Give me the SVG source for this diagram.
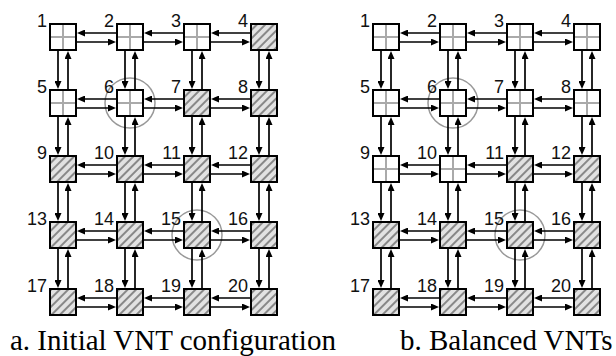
<svg xmlns="http://www.w3.org/2000/svg" width="616" height="356" viewBox="0 0 616 356">
<style>
.box{stroke:#000;stroke-width:2}
.g{fill:#fff}
.h{fill:url(#hatch)}
.x{stroke:#aaa;stroke-width:2;fill:none}
.c{stroke:#000;stroke-width:1.7;fill:none;marker-end:url(#ah)}
.lbl{font-family:"Liberation Sans",Arial,sans-serif;font-size:18px;fill:#111;text-anchor:end}
.cap{font-family:"Liberation Serif","Times New Roman",serif;font-size:29px;fill:#000}
.ring{fill:none;stroke:#999;stroke-width:1.5}
</style>
<defs>
<pattern id="hatch" patternUnits="userSpaceOnUse" width="6" height="6" patternTransform="rotate(45)">
<rect width="6" height="6" fill="#e2e2e2"/>
<line x1="1" y1="0" x2="1" y2="6" stroke="#888" stroke-width="2"/>
</pattern>
<marker id="ah" markerUnits="userSpaceOnUse" markerWidth="8" markerHeight="7" refX="5" refY="3.5" orient="auto">
<path d="M0,0L8,3.5L0,7z" fill="#000"/>
</marker>
</defs>
<rect width="616" height="356" fill="#fff"/>
<g id="rings">
<circle class="ring" cx="130" cy="103" r="25"/>
<circle class="ring" cx="197" cy="235" r="25"/>
<circle class="ring" cx="453" cy="103" r="25"/>
<circle class="ring" cx="520" cy="235" r="25"/>
</g>
<g id="nodes-a">
<g id="a1"><rect class="box g" x="50" y="24" width="26" height="26"/><path class="x" d="M63 25V49M51 37H75"/><text class="lbl" x="47" y="27">1</text></g>
<g id="a2"><rect class="box g" x="117" y="24" width="26" height="26"/><path class="x" d="M130 25V49M118 37H142"/><text class="lbl" x="114" y="27">2</text></g>
<g id="a3"><rect class="box g" x="184" y="24" width="26" height="26"/><path class="x" d="M197 25V49M185 37H209"/><text class="lbl" x="181" y="27">3</text></g>
<g id="a4"><rect class="box h" x="251" y="24" width="26" height="26"/><text class="lbl" x="248" y="27">4</text></g>
<g id="a5"><rect class="box g" x="50" y="90" width="26" height="26"/><path class="x" d="M63 91V115M51 103H75"/><text class="lbl" x="47" y="93">5</text></g>
<g id="a6"><rect class="box g" x="117" y="90" width="26" height="26"/><path class="x" d="M130 91V115M118 103H142"/><text class="lbl" x="114" y="93">6</text></g>
<g id="a7"><rect class="box h" x="184" y="90" width="26" height="26"/><text class="lbl" x="181" y="93">7</text></g>
<g id="a8"><rect class="box h" x="251" y="90" width="26" height="26"/><text class="lbl" x="248" y="93">8</text></g>
<g id="a9"><rect class="box h" x="50" y="156" width="26" height="26"/><text class="lbl" x="47" y="159">9</text></g>
<g id="a10"><rect class="box h" x="117" y="156" width="26" height="26"/><text class="lbl" x="114" y="159">10</text></g>
<g id="a11"><rect class="box h" x="184" y="156" width="26" height="26"/><text class="lbl" x="181" y="159">11</text></g>
<g id="a12"><rect class="box h" x="251" y="156" width="26" height="26"/><text class="lbl" x="248" y="159">12</text></g>
<g id="a13"><rect class="box h" x="50" y="222" width="26" height="26"/><text class="lbl" x="47" y="225">13</text></g>
<g id="a14"><rect class="box h" x="117" y="222" width="26" height="26"/><text class="lbl" x="114" y="225">14</text></g>
<g id="a15"><rect class="box h" x="184" y="222" width="26" height="26"/><text class="lbl" x="181" y="225">15</text></g>
<g id="a16"><rect class="box h" x="251" y="222" width="26" height="26"/><text class="lbl" x="248" y="225">16</text></g>
<g id="a17"><rect class="box h" x="50" y="289" width="26" height="26"/><text class="lbl" x="47" y="292">17</text></g>
<g id="a18"><rect class="box h" x="117" y="289" width="26" height="26"/><text class="lbl" x="114" y="292">18</text></g>
<g id="a19"><rect class="box h" x="184" y="289" width="26" height="26"/><text class="lbl" x="181" y="292">19</text></g>
<g id="a20"><rect class="box h" x="251" y="289" width="26" height="26"/><text class="lbl" x="248" y="292">20</text></g>
</g>
<g id="nodes-b">
<g id="b1"><rect class="box g" x="373" y="24" width="26" height="26"/><path class="x" d="M386 25V49M374 37H398"/><text class="lbl" x="370" y="27">1</text></g>
<g id="b2"><rect class="box g" x="440" y="24" width="26" height="26"/><path class="x" d="M453 25V49M441 37H465"/><text class="lbl" x="437" y="27">2</text></g>
<g id="b3"><rect class="box g" x="507" y="24" width="26" height="26"/><path class="x" d="M520 25V49M508 37H532"/><text class="lbl" x="504" y="27">3</text></g>
<g id="b4"><rect class="box g" x="574" y="24" width="26" height="26"/><path class="x" d="M587 25V49M575 37H599"/><text class="lbl" x="571" y="27">4</text></g>
<g id="b5"><rect class="box g" x="373" y="90" width="26" height="26"/><path class="x" d="M386 91V115M374 103H398"/><text class="lbl" x="370" y="93">5</text></g>
<g id="b6"><rect class="box g" x="440" y="90" width="26" height="26"/><path class="x" d="M453 91V115M441 103H465"/><text class="lbl" x="437" y="93">6</text></g>
<g id="b7"><rect class="box g" x="507" y="90" width="26" height="26"/><path class="x" d="M520 91V115M508 103H532"/><text class="lbl" x="504" y="93">7</text></g>
<g id="b8"><rect class="box g" x="574" y="90" width="26" height="26"/><path class="x" d="M587 91V115M575 103H599"/><text class="lbl" x="571" y="93">8</text></g>
<g id="b9"><rect class="box g" x="373" y="156" width="26" height="26"/><path class="x" d="M386 157V181M374 169H398"/><text class="lbl" x="370" y="159">9</text></g>
<g id="b10"><rect class="box g" x="440" y="156" width="26" height="26"/><path class="x" d="M453 157V181M441 169H465"/><text class="lbl" x="437" y="159">10</text></g>
<g id="b11"><rect class="box h" x="507" y="156" width="26" height="26"/><text class="lbl" x="504" y="159">11</text></g>
<g id="b12"><rect class="box h" x="574" y="156" width="26" height="26"/><text class="lbl" x="571" y="159">12</text></g>
<g id="b13"><rect class="box h" x="373" y="222" width="26" height="26"/><text class="lbl" x="370" y="225">13</text></g>
<g id="b14"><rect class="box h" x="440" y="222" width="26" height="26"/><text class="lbl" x="437" y="225">14</text></g>
<g id="b15"><rect class="box h" x="507" y="222" width="26" height="26"/><text class="lbl" x="504" y="225">15</text></g>
<g id="b16"><rect class="box h" x="574" y="222" width="26" height="26"/><text class="lbl" x="571" y="225">16</text></g>
<g id="b17"><rect class="box h" x="373" y="289" width="26" height="26"/><text class="lbl" x="370" y="292">17</text></g>
<g id="b18"><rect class="box h" x="440" y="289" width="26" height="26"/><text class="lbl" x="437" y="292">18</text></g>
<g id="b19"><rect class="box h" x="507" y="289" width="26" height="26"/><text class="lbl" x="504" y="292">19</text></g>
<g id="b20"><rect class="box h" x="574" y="289" width="26" height="26"/><text class="lbl" x="571" y="292">20</text></g>
</g>
<g id="connectors">
<path class="c" d="M116 33H80"/><path class="c" d="M77 42H113"/><path class="c" d="M183 33H147"/><path class="c" d="M144 42H180"/><path class="c" d="M250 33H214"/><path class="c" d="M211 42H247"/>
<path class="c" d="M116 99H80"/><path class="c" d="M77 108H113"/><path class="c" d="M183 99H147"/><path class="c" d="M144 108H180"/><path class="c" d="M250 99H214"/><path class="c" d="M211 108H247"/>
<path class="c" d="M116 165H80"/><path class="c" d="M77 174H113"/><path class="c" d="M183 165H147"/><path class="c" d="M144 174H180"/><path class="c" d="M250 165H214"/><path class="c" d="M211 174H247"/>
<path class="c" d="M116 231H80"/><path class="c" d="M77 240H113"/><path class="c" d="M183 231H147"/><path class="c" d="M144 240H180"/><path class="c" d="M250 231H214"/><path class="c" d="M211 240H247"/>
<path class="c" d="M116 298H80"/><path class="c" d="M77 307H113"/><path class="c" d="M183 298H147"/><path class="c" d="M144 307H180"/><path class="c" d="M250 298H214"/><path class="c" d="M211 307H247"/>
<path class="c" d="M58 51V86"/><path class="c" d="M68 89V54"/><path class="c" d="M58 117V152"/><path class="c" d="M68 155V120"/><path class="c" d="M58 183V218"/><path class="c" d="M68 221V186"/><path class="c" d="M58 249V285"/><path class="c" d="M68 288V252"/>
<path class="c" d="M125 51V86"/><path class="c" d="M135 89V54"/><path class="c" d="M125 117V152"/><path class="c" d="M135 155V120"/><path class="c" d="M125 183V218"/><path class="c" d="M135 221V186"/><path class="c" d="M125 249V285"/><path class="c" d="M135 288V252"/>
<path class="c" d="M192 51V86"/><path class="c" d="M202 89V54"/><path class="c" d="M192 117V152"/><path class="c" d="M202 155V120"/><path class="c" d="M192 183V218"/><path class="c" d="M202 221V186"/><path class="c" d="M192 249V285"/><path class="c" d="M202 288V252"/>
<path class="c" d="M259 51V86"/><path class="c" d="M269 89V54"/><path class="c" d="M259 117V152"/><path class="c" d="M269 155V120"/><path class="c" d="M259 183V218"/><path class="c" d="M269 221V186"/><path class="c" d="M259 249V285"/><path class="c" d="M269 288V252"/>
<path class="c" d="M439 33H403"/><path class="c" d="M400 42H436"/><path class="c" d="M506 33H470"/><path class="c" d="M467 42H503"/><path class="c" d="M573 33H537"/><path class="c" d="M534 42H570"/>
<path class="c" d="M439 99H403"/><path class="c" d="M400 108H436"/><path class="c" d="M506 99H470"/><path class="c" d="M467 108H503"/><path class="c" d="M573 99H537"/><path class="c" d="M534 108H570"/>
<path class="c" d="M439 165H403"/><path class="c" d="M400 174H436"/><path class="c" d="M506 165H470"/><path class="c" d="M467 174H503"/><path class="c" d="M573 165H537"/><path class="c" d="M534 174H570"/>
<path class="c" d="M439 231H403"/><path class="c" d="M400 240H436"/><path class="c" d="M506 231H470"/><path class="c" d="M467 240H503"/><path class="c" d="M573 231H537"/><path class="c" d="M534 240H570"/>
<path class="c" d="M439 298H403"/><path class="c" d="M400 307H436"/><path class="c" d="M506 298H470"/><path class="c" d="M467 307H503"/><path class="c" d="M573 298H537"/><path class="c" d="M534 307H570"/>
<path class="c" d="M381 51V86"/><path class="c" d="M391 89V54"/><path class="c" d="M381 117V152"/><path class="c" d="M391 155V120"/><path class="c" d="M381 183V218"/><path class="c" d="M391 221V186"/><path class="c" d="M381 249V285"/><path class="c" d="M391 288V252"/>
<path class="c" d="M448 51V86"/><path class="c" d="M458 89V54"/><path class="c" d="M448 117V152"/><path class="c" d="M458 155V120"/><path class="c" d="M448 183V218"/><path class="c" d="M458 221V186"/><path class="c" d="M448 249V285"/><path class="c" d="M458 288V252"/>
<path class="c" d="M515 51V86"/><path class="c" d="M525 89V54"/><path class="c" d="M515 117V152"/><path class="c" d="M525 155V120"/><path class="c" d="M515 183V218"/><path class="c" d="M525 221V186"/><path class="c" d="M515 249V285"/><path class="c" d="M525 288V252"/>
<path class="c" d="M582 51V86"/><path class="c" d="M592 89V54"/><path class="c" d="M582 117V152"/><path class="c" d="M592 155V120"/><path class="c" d="M582 183V218"/><path class="c" d="M592 221V186"/><path class="c" d="M582 249V285"/><path class="c" d="M592 288V252"/>
</g>
<g id="captions">
<text class="cap" x="10" y="350">a. Initial VNT configuration</text>
<text class="cap" x="400" y="350">b. Balanced VNTs</text>
</g>
</svg>
